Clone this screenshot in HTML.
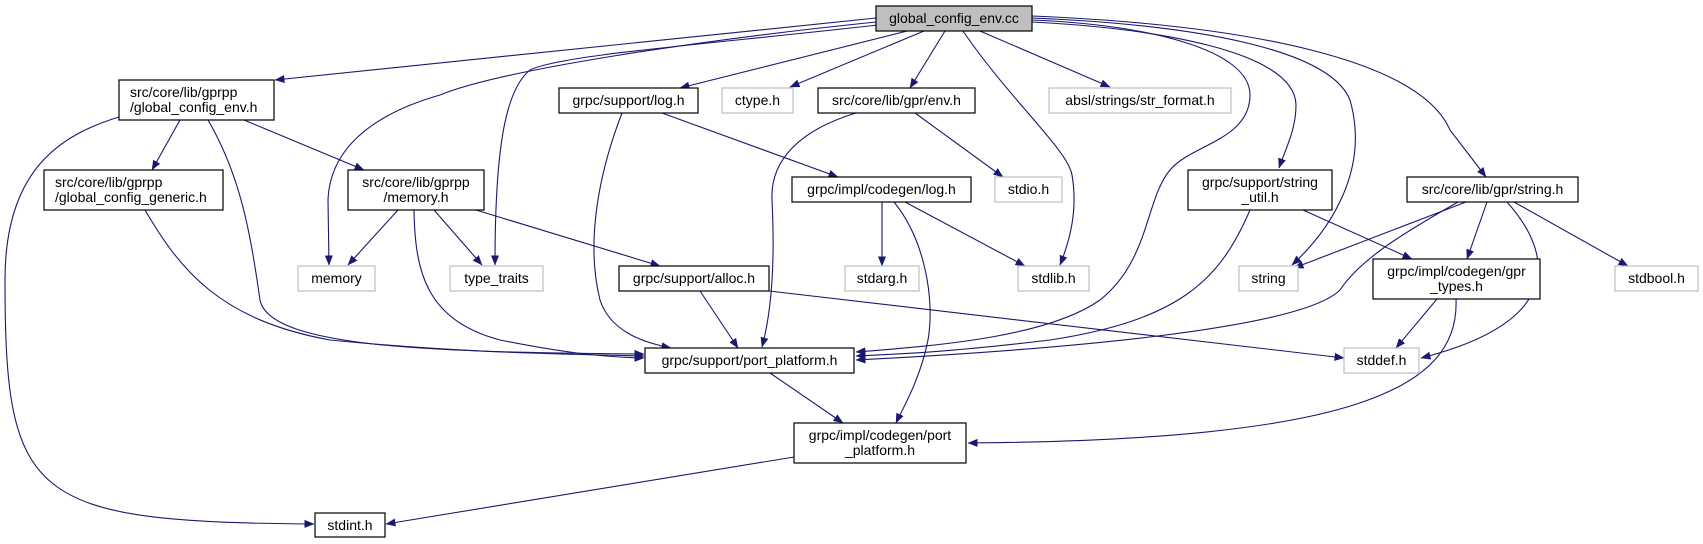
<!DOCTYPE html>
<html><head><meta charset="utf-8"><style>
html,body{margin:0;padding:0;background:#fff;}
svg{display:block;}
text{font-family:"Liberation Sans",sans-serif;font-size:14px;fill:#000;text-anchor:middle;}
.b{fill:#fff;stroke:#000;stroke-width:1.2;}
.g{fill:#fff;stroke:#bfbfbf;stroke-width:1.2;}
.e{fill:none;stroke:#191970;stroke-width:1.1;marker-end:url(#a);}
</style></head><body>
<svg width="1703" height="544" viewBox="0 0 1703 544" xmlns="http://www.w3.org/2000/svg">
<defs><marker id="a" viewBox="0 0 10 10" refX="9.5" refY="5" markerWidth="10" markerHeight="10" markerUnits="userSpaceOnUse" orient="auto"><path d="M0,1 L10,5 L0,9 z" fill="#191970"/></marker></defs>

<!-- edges -->
<path class="e" d="M876,18 L275,80"/>
<path class="e" d="M876,22 C700,40 500,70 440,95 C370,115 330,150 328,200 L329,265"/>
<path class="e" d="M878,25 C700,45 560,55 530,70 C505,90 495,150 495,265"/>
<path class="e" d="M907,31 L680,88"/>
<path class="e" d="M924,31 L790,87"/>
<path class="e" d="M945,31 L910,88"/>
<path class="e" d="M963,31 C1010,100 1068,150 1072,175 C1078,210 1070,240 1060,265"/>
<path class="e" d="M980,31 L1110,87"/>
<path class="e" d="M1032,20 C1150,25 1250,50 1250,95 C1250,140 1190,145 1170,170 C1145,200 1150,260 1100,300 C1050,335 950,345 856,352"/>
<path class="e" d="M1032,22 C1150,28 1295,50 1296,105 C1296,130 1285,150 1279,168"/>
<path class="e" d="M1032,18 C1200,25 1330,50 1350,100 C1370,170 1330,230 1292,265"/>
<path class="e" d="M1032,16 C1250,25 1420,60 1450,130 L1486,177"/>

<path class="e" d="M180,120 L152,170"/>
<path class="e" d="M244,120 L364,170"/>
<path class="e" d="M208,120 C240,175 250,230 260,300 C270,350 450,352 644,354"/>
<path class="e" d="M119,117 C60,135 5,170 5,280 C5,500 30,522 314,524"/>
<path class="e" d="M145,210 C180,270 220,320 330,340 C450,352 550,354 644,356"/>
<path class="e" d="M398,210 L348,265"/>
<path class="e" d="M434,210 L482,265"/>
<path class="e" d="M414,210 C415,270 425,320 500,340 C560,352 600,357 644,358"/>
<path class="e" d="M476,210 L660,266"/>
<path class="e" d="M662,113 L838,177"/>
<path class="e" d="M622,113 C600,170 585,240 600,300 C610,330 640,342 671,348"/>
<path class="e" d="M856,113 C800,130 770,160 772,200 C775,260 772,310 762,347"/>
<path class="e" d="M915,113 L1003,177"/>
<path class="e" d="M882,202 L882,266"/>
<path class="e" d="M905,202 L1025,266"/>
<path class="e" d="M894,202 C925,240 935,300 928,340 C920,380 902,410 896,423"/>
<path class="e" d="M700,291 L738,348"/>
<path class="e" d="M769,291 L1344,358"/>
<path class="e" d="M770,373 L843,423"/>
<path class="e" d="M794,457 L386,524"/>
<path class="e" d="M1250,210 C1220,280 1180,320 1050,340 C950,352 900,354 856,356"/>
<path class="e" d="M1303,210 L1412,259"/>
<path class="e" d="M1466,202 L1294,268"/>
<path class="e" d="M1458,202 C1400,235 1360,260 1340,290 C1300,330 1050,350 856,360"/>
<path class="e" d="M1487,202 L1467,259"/>
<path class="e" d="M1507,202 C1550,250 1570,320 1421,358"/>
<path class="e" d="M1514,202 L1628,266"/>
<path class="e" d="M1437,299 L1396,348"/>
<path class="e" d="M1456,299 C1460,390 1350,440 968,443"/>

<!-- nodes -->
<rect x="876" y="6" width="156" height="25" fill="#bfbfbf" stroke="#000" stroke-width="1.2"/><text x="954" y="23">global_config_env.cc</text>
<rect class="b" x="119" y="80" width="155" height="40"/><text x="130" y="97" style="text-anchor:start">src/core/lib/gprpp</text><text x="130" y="112" style="text-anchor:start">/global_config_env.h</text>
<rect class="b" x="44" y="170" width="179" height="40"/><text x="55" y="187" style="text-anchor:start">src/core/lib/gprpp</text><text x="55" y="202" style="text-anchor:start">/global_config_generic.h</text>
<rect class="b" x="348" y="170" width="136" height="40"/><text x="416" y="187">src/core/lib/gprpp</text><text x="416" y="202">/memory.h</text>
<rect class="g" x="298" y="266" width="77" height="25"/><text x="336.5" y="283">memory</text>
<rect class="g" x="450" y="266" width="93" height="25"/><text x="496.5" y="283">type_traits</text>
<rect class="b" x="559" y="88" width="139" height="25"/><text x="628.5" y="105">grpc/support/log.h</text>
<rect class="g" x="722" y="88" width="71" height="25"/><text x="757.5" y="105">ctype.h</text>
<rect class="b" x="818" y="88" width="157" height="25"/><text x="896.5" y="105">src/core/lib/gpr/env.h</text>
<rect class="g" x="1049" y="88" width="182" height="25"/><text x="1140" y="105">absl/strings/str_format.h</text>
<rect class="b" x="792" y="177" width="179" height="25"/><text x="881.5" y="194">grpc/impl/codegen/log.h</text>
<rect class="g" x="995" y="177" width="67" height="25"/><text x="1028.5" y="194">stdio.h</text>
<rect class="g" x="845" y="266" width="74" height="25"/><text x="882" y="283">stdarg.h</text>
<rect class="g" x="1018" y="266" width="71" height="25"/><text x="1053.5" y="283">stdlib.h</text>
<rect class="b" x="619" y="266" width="150" height="25"/><text x="694" y="283">grpc/support/alloc.h</text>
<rect class="b" x="1188" y="170" width="144" height="40"/><text x="1260" y="187">grpc/support/string</text><text x="1260" y="202">_util.h</text>
<rect class="b" x="1407" y="177" width="171" height="25"/><text x="1492.5" y="194">src/core/lib/gpr/string.h</text>
<rect class="g" x="1239" y="266" width="59" height="25"/><text x="1268.5" y="283">string</text>
<rect class="b" x="1373" y="259" width="167" height="40"/><text x="1456.5" y="276">grpc/impl/codegen/gpr</text><text x="1456.5" y="291">_types.h</text>
<rect class="g" x="1615" y="266" width="83" height="25"/><text x="1656.5" y="283">stdbool.h</text>
<rect class="g" x="1344" y="348" width="75" height="25"/><text x="1381.5" y="365">stddef.h</text>
<rect class="b" x="645" y="348" width="209" height="25"/><text x="749.5" y="365">grpc/support/port_platform.h</text>
<rect class="b" x="794" y="423" width="172" height="40"/><text x="880" y="440">grpc/impl/codegen/port</text><text x="880" y="455">_platform.h</text>
<rect class="b" x="315" y="513" width="70" height="24"/><text x="350" y="530">stdint.h</text>
</svg>
</body></html>
